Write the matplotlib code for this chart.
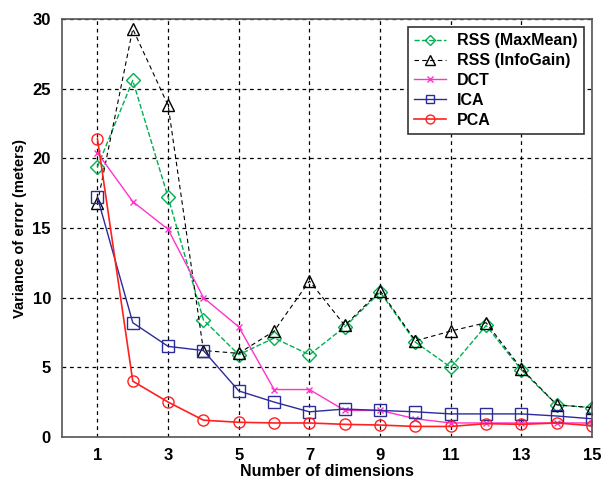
import matplotlib
matplotlib.use("Agg")
import matplotlib.pyplot as plt

plt.rcParams['font.family'] = ['Liberation Sans', 'DejaVu Sans']
plt.rcParams['font.weight'] = 'bold'

dims = list(range(1, 16))
rss_maxmean = [19.4, 25.6, 17.2, 8.4, 5.9, 7.1, 5.9, 7.9, 10.4, 6.8, 5.0, 8.0, 4.8, 2.3, 2.1]
rss_infogain = [16.8, 29.3, 23.8, 6.2, 6.0, 7.6, 11.2, 8.0, 10.5, 6.9, 7.6, 8.2, 4.9, 2.3, 2.1]
dct = [20.4, 16.9, 14.9, 10.0, 7.9, 3.4, 3.4, 1.9, 1.9, 1.3, 1.0, 1.0, 1.0, 1.0, 1.0]
ica = [17.2, 8.2, 6.5, 6.2, 3.3, 2.5, 1.8, 2.0, 1.9, 1.8, 1.65, 1.65, 1.65, 1.5, 1.3]
pca = [21.4, 4.0, 2.5, 1.2, 1.05, 1.0, 1.0, 0.9, 0.85, 0.75, 0.75, 0.95, 0.9, 1.0, 0.8]

xticks = [1, 3, 5, 7, 9, 11, 13, 15]
yticks = [0, 5, 10, 15, 20, 25, 30]

fig = plt.figure(figsize=(6.03, 4.78), dpi=100)
ax = fig.add_axes([0.103, 0.086, 0.879, 0.874])

ax.plot(dims, rss_maxmean, '--', color='#00b050', marker='D', markersize=7,
        mfc='none', mec='#00b050', lw=1.0, label='RSS (MaxMean)')
ax.plot(dims, rss_infogain, '--', color='black', marker='^', markersize=9,
        mfc='none', mec='black', lw=0.8, dashes=(4, 3), label='RSS (InfoGain)')
ax.plot(dims, dct, '-', color='#ff33cc', marker='x', markersize=5,
        lw=1.0, label='DCT')
ax.plot(dims, ica, '-', color='#2b2b9a', marker='s', markersize=8,
        mfc='none', mec='#2b2b9a', lw=1.0, label='ICA')
ax.plot(dims, pca, '-', color='#ff2020', marker='o', markersize=8,
        mfc='none', mec='#ff2020', lw=1.2, label='PCA')

ax.set_xlim(0, 15)
ax.set_ylim(0, 30)
ax.set_xticks(xticks)
ax.set_yticks(yticks)
ax.tick_params(labelsize=12, length=0, pad=8)
ax.grid(True, color='black', linestyle=(0, (3, 3)), lw=0.9)

for s in ax.spines.values():
    s.set_color('#555555')
    s.set_linewidth(1.2)

ax.set_xlabel('Number of dimensions', fontsize=11.5, fontweight='bold', labelpad=1)
ax.set_ylabel('Variance of error (meters)', fontsize=10.5, fontweight='bold')

leg = ax.legend(loc='upper right', fontsize=11.5, fancybox=False, framealpha=1,
                edgecolor='#333333', borderaxespad=0.5, handlelength=2.0,
                labelspacing=0.3, markerscale=0.8, borderpad=0.4,
                handletextpad=0.7)
leg.get_frame().set_linewidth(1.2)

fig.savefig('out.png', dpi=100)
